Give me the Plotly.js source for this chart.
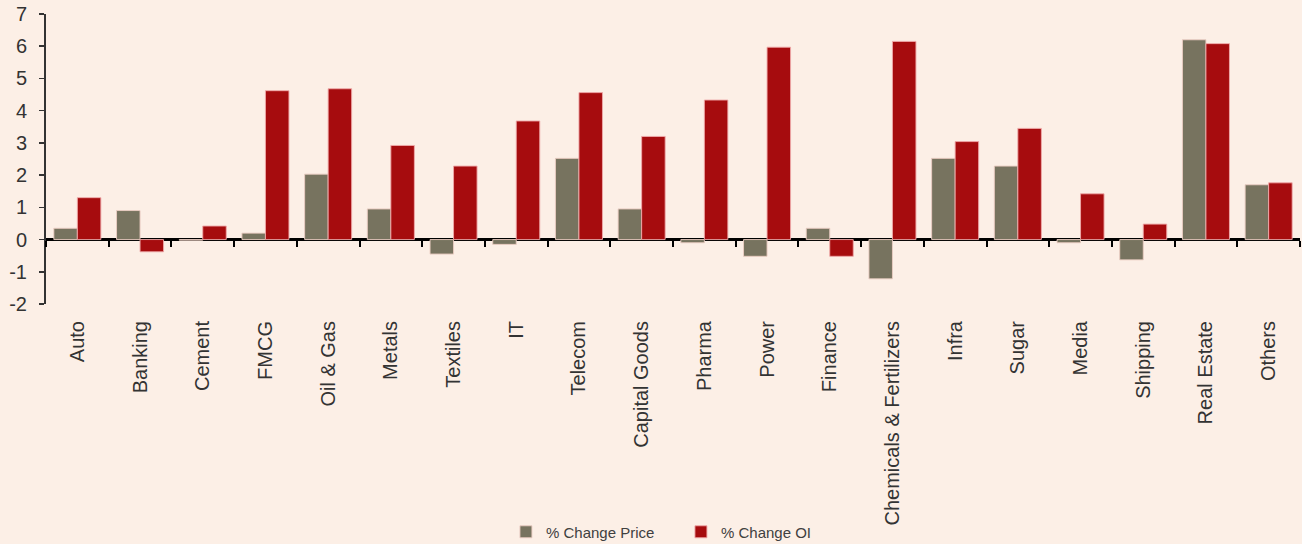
<!DOCTYPE html>
<html>
<head>
<meta charset="utf-8">
<script src="https://cdn.plot.ly/plotly-3.0.1.min.js"></script>
<style>html,body{margin:0;padding:0;background:#FCEFE6;}#chart{width:1302px;height:544px;}</style>
</head>
<body>
<div id="chart"></div>
<script>
const categories = ["Auto","Banking","Cement","FMCG","Oil & Gas","Metals","Textiles","IT","Telecom","Capital Goods","Pharma","Power","Finance","Chemicals & Fertilizers","Infra","Sugar","Media","Shipping","Real Estate","Others"];
const priceChange = [0.35, 0.9, -0.02, 0.2, 2.03, 0.95, -0.45, -0.15, 2.52, 0.95, -0.1, -0.52, 0.35, -1.22, 2.52, 2.28, -0.1, -0.63, 6.2, 1.7];
const oiChange = [1.3, -0.38, 0.42, 4.62, 4.68, 2.92, 2.28, 3.68, 4.56, 3.2, 4.33, 5.97, -0.52, 6.15, 3.04, 3.45, 1.42, 0.48, 6.08, 1.76];
const yTicks = [-2, -1, 0, 1, 2, 3, 4, 5, 6, 7];
const yTickText = ["-2", "-1", "0", "1", "2", "3", "4", "5", "6", "7"];
const seriesNames = ["% Change Price", "% Change OI"];

const FONT = "Liberation Sans, Arial, sans-serif";
const data = [
  {type:'bar', name:seriesNames[0], x:categories, y:priceChange,
   marker:{color:'#77735F', line:{color:'rgba(235,205,195,0.9)', width:1}}, hoverinfo:'x+y'},
  {type:'bar', name:seriesNames[1], x:categories, y:oiChange,
   marker:{color:'#A60C0E', line:{color:'rgba(240,170,170,0.9)', width:1}}, hoverinfo:'x+y'},
  {type:'scatter', x:categories, y:categories.map(()=>null), xaxis:'x2', yaxis:'y',
   mode:'lines', showlegend:false, hoverinfo:'skip'}
];
const layout = {
  width:1302, height:544,
  paper_bgcolor:'#FCEFE6', plot_bgcolor:'#FCEFE6',
  margin:{l:46, r:2, t:14, b:240},
  font:{family:FONT, color:'#333333'},
  barmode:'group', bargap:0.25, bargroupgap:0,
  showlegend:true,
  legend:{orientation:'h', x:0.523, xanchor:'center', xref:'container', yref:'container', y:0.022, yanchor:'middle',
          font:{size:15, color:'#404040', family:FONT}, itemwidth:30, entrywidth:130, traceorder:'normal', bgcolor:'rgba(0,0,0,0)'},
  xaxis:{type:'category', tickangle:-90, ticks:'', showline:false, showgrid:false, zeroline:false,
         tickfont:{size:20, color:'#333333', family:FONT}, ticklabelstandoff:12},
  xaxis2:{type:'category', overlaying:'x', anchor:'free', position:2/9, side:'bottom', showticklabels:false,
          ticks:'outside', tickson:'boundaries', ticklen:6, tickwidth:2, tickcolor:'#000000',
          showline:false, showgrid:false, zeroline:false, matches:'x'},
  yaxis:{range:[-2,7], tickmode:'array', tickvals:yTicks, ticktext:yTickText, ticks:'outside', ticklen:5, tickwidth:1.5, tickcolor:'#333333',
         showline:true, linecolor:'#333333', linewidth:2, showgrid:false,
         zeroline:true, zerolinecolor:'#000000', zerolinewidth:2.5, ticklabelstandoff:8,
         tickfont:{size:20, color:'#333333', family:FONT}}
};
Plotly.newPlot('chart', data, layout, {displayModeBar:false, staticPlot:true});
</script>
</body>
</html>
